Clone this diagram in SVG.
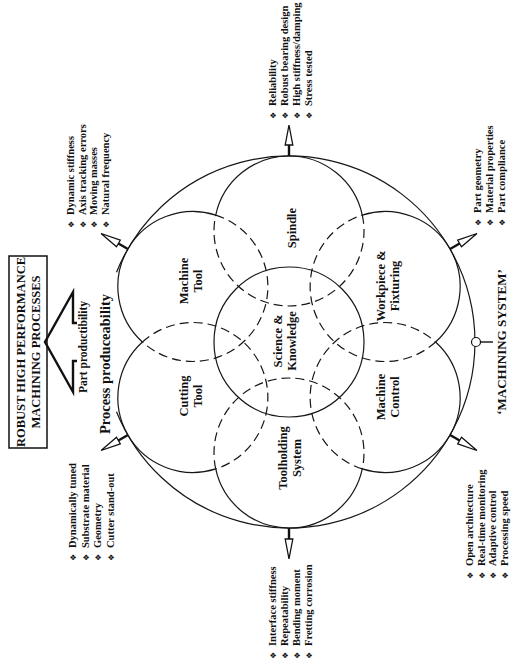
<svg xmlns="http://www.w3.org/2000/svg" width="511" height="661" viewBox="0 0 511 661">
<style>
.ln{fill:none;stroke:#161616;stroke-width:1.2}
.ds{fill:none;stroke:#161616;stroke-width:1.2;stroke-dasharray:9 5}
.t{font-family:"Liberation Serif","Times New Roman",serif;font-weight:bold;fill:#111}
.lbl{font-size:12.5px;text-anchor:middle}
.li{font-size:10.5px}
.bul{font-family:"DejaVu Sans",sans-serif;font-size:8px;font-weight:normal}
.stem{stroke:#111;stroke-width:2.4}
.head{fill:#fff;stroke:#111;stroke-width:1.3;stroke-linejoin:miter}
</style>
<defs>
<g id="petal">
<path class="ln" d="M215.71 215.06 A75 75 0 0 1 362.29 215.06"/>
<path class="ds" d="M362.29 215.06 A75 75 0 1 1 215.71 215.06"/>
</g>
<g id="arr">
<line class="stem" x1="0" y1="0" x2="0" y2="-11"/>
<path class="head" d="M-3.8 -11 L3.8 -11 L0 -31 Z"/>
</g>
</defs>
<rect width="511" height="661" fill="#fff"/>

<g id="title">
<rect x="9" y="256" width="38" height="192" fill="#fff" stroke="#111" stroke-width="1.5"/>
<text class="t lbl" transform="translate(25,352) rotate(-90)"><tspan x="0" y="0">ROBUST HIGH PERFORMANCE</tspan><tspan x="0" y="14.5">MACHINING PROCESSES</tspan></text>
</g>

<g id="chevron">
<path d="M77 323 L73 323 L73 292 L45 342 L73 392 L73 361 L77 361" fill="none" stroke="#111" stroke-width="2.4" stroke-linejoin="miter"/>
<text class="t" font-size="11.5" text-anchor="middle" transform="translate(87,347) rotate(-90)">Part productibility</text>
<text class="t" font-size="14.5" text-anchor="middle" transform="translate(110,364) rotate(-90)">Process produceability</text>
</g>

<g id="outer-system">
<path class="ln" d="M116.5 272.3 A186 186 0 1 1 116.5 411.7"/>
<text class="t" font-size="13" text-anchor="middle" transform="translate(506,342) rotate(-90)">‘MACHINING SYSTEM’</text>
</g>

<g id="science-knowledge">
<circle class="ln" cx="289" cy="342" r="75"/>
<text class="t lbl" transform="translate(282,341) rotate(-90)"><tspan x="0" y="0">Science &amp;</tspan><tspan x="0" y="13.5">Knowledge</tspan></text>
</g>

<g id="spindle">
<use href="#petal"/>
<text class="t lbl" transform="translate(296,228) rotate(-90)">Spindle</text>
</g>

<g id="workpiece-fixturing">
<use href="#petal" transform="rotate(60 289 342)"/>
<text class="t lbl" transform="translate(385,286) rotate(-90)"><tspan x="0" y="0">Workpiece &amp;</tspan><tspan x="0" y="14">Fixturing</tspan></text>
</g>

<g id="machine-control">
<use href="#petal" transform="rotate(120 289 342)"/>
<text class="t lbl" transform="translate(385,397) rotate(-90)"><tspan x="0" y="0">Machine</tspan><tspan x="0" y="14">Control</tspan></text>
</g>

<g id="toolholding-system">
<use href="#petal" transform="rotate(180 289 342)"/>
<text class="t lbl" transform="translate(287,458) rotate(-90)"><tspan x="0" y="0">Toolholding</tspan><tspan x="0" y="14">System</tspan></text>
</g>

<g id="cutting-tool">
<use href="#petal" transform="rotate(240 289 342)"/>
<text class="t lbl" transform="translate(188,396) rotate(-90)"><tspan x="0" y="0">Cutting</tspan><tspan x="0" y="13.5">Tool</tspan></text>
</g>

<g id="machine-tool">
<use href="#petal" transform="rotate(300 289 342)"/>
<text class="t lbl" transform="translate(188,281) rotate(-90)"><tspan x="0" y="0">Machine</tspan><tspan x="0" y="13.5">Tool</tspan></text>
</g>

<g id="connectors">
<use href="#arr" transform="rotate(0 289 342) translate(289,156)"/>
<use href="#arr" transform="rotate(60 289 342) translate(289,156)"/>
<use href="#arr" transform="rotate(120 289 342) translate(289,156)"/>
<use href="#arr" transform="rotate(180 289 342) translate(289,156)"/>
<use href="#arr" transform="rotate(240 289 342) translate(289,156)"/>
<use href="#arr" transform="rotate(300 289 342) translate(289,156)"/>
<circle cx="476" cy="342" r="4.5" fill="#fff" stroke="#111" stroke-width="1.2"/>
<line x1="480.5" y1="342" x2="493" y2="342" stroke="#111" stroke-width="1.4"/>
</g>

<g id="list-spindle" class="t li" transform="translate(0,119) rotate(-90)">
<text y="276"><tspan class="bul">❖</tspan><tspan x="13">Reliability</tspan></text>
<text y="288"><tspan class="bul">❖</tspan><tspan x="13">Robust bearing design</tspan></text>
<text y="300"><tspan class="bul">❖</tspan><tspan x="13">High stiffness/damping</tspan></text>
<text y="312"><tspan class="bul">❖</tspan><tspan x="13">Stress tested</tspan></text>
</g>

<g id="list-machine-tool" class="t li" transform="translate(0,228) rotate(-90)">
<text y="74"><tspan class="bul">❖</tspan><tspan x="13">Dynamic stiffness</tspan></text>
<text y="85.5"><tspan class="bul">❖</tspan><tspan x="13">Axis tracking errors</tspan></text>
<text y="97"><tspan class="bul">❖</tspan><tspan x="13">Moving masses</tspan></text>
<text y="108.5"><tspan class="bul">❖</tspan><tspan x="13">Natural frequency</tspan></text>
</g>

<g id="list-workpiece" class="t li" transform="translate(0,226) rotate(-90)">
<text y="481"><tspan class="bul">❖</tspan><tspan x="13">Part geometry</tspan></text>
<text y="493"><tspan class="bul">❖</tspan><tspan x="13">Material properties</tspan></text>
<text y="505"><tspan class="bul">❖</tspan><tspan x="13">Part compliance</tspan></text>
</g>

<g id="list-machine-control" class="t li" transform="translate(0,579) rotate(-90)">
<text y="473"><tspan class="bul">❖</tspan><tspan x="13">Open architecture</tspan></text>
<text y="484.5"><tspan class="bul">❖</tspan><tspan x="13">Real-time monitoring</tspan></text>
<text y="496"><tspan class="bul">❖</tspan><tspan x="13">Adaptive control</tspan></text>
<text y="507.5"><tspan class="bul">❖</tspan><tspan x="13">Processing speed</tspan></text>
</g>

<g id="list-toolholding" class="t li" transform="translate(0,659) rotate(-90)">
<text y="276"><tspan class="bul">❖</tspan><tspan x="13">Interface stiffness</tspan></text>
<text y="288"><tspan class="bul">❖</tspan><tspan x="13">Repeatability</tspan></text>
<text y="300"><tspan class="bul">❖</tspan><tspan x="13">Bending moment</tspan></text>
<text y="312"><tspan class="bul">❖</tspan><tspan x="13">Fretting corrosion</tspan></text>
</g>

<g id="list-cutting-tool" class="t li" transform="translate(0,561) rotate(-90)">
<text y="76"><tspan class="bul">❖</tspan><tspan x="13">Dynamically tuned</tspan></text>
<text y="88.5"><tspan class="bul">❖</tspan><tspan x="13">Substrate material</tspan></text>
<text y="101"><tspan class="bul">❖</tspan><tspan x="13">Geometry</tspan></text>
<text y="113.5"><tspan class="bul">❖</tspan><tspan x="13">Cutter stand-out</tspan></text>
</g>
</svg>
